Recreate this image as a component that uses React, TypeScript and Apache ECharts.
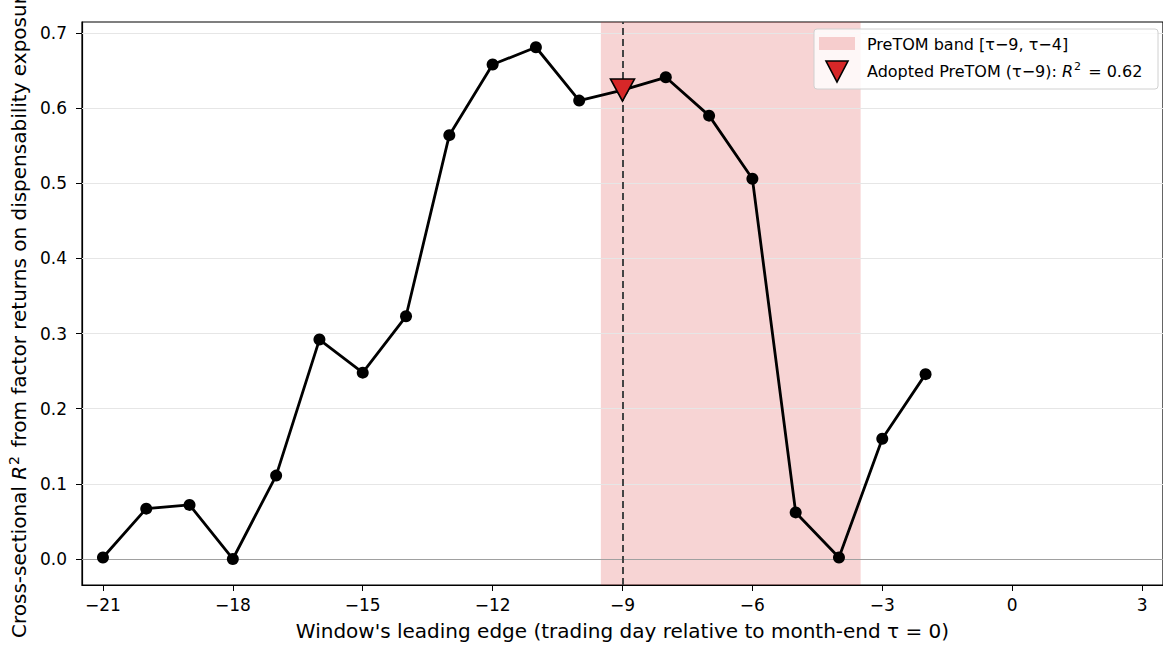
import React, { useEffect, useRef } from "react";
import * as echarts from "echarts";

const xValues = [-21, -20, -19, -18, -17, -16, -15, -14, -13, -12, -11, -10, -9, -8, -7, -6, -5, -4, -3, -2];
const r2Values = [0.002, 0.067, 0.072, 0.0, 0.111, 0.292, 0.248, 0.323, 0.564, 0.658, 0.681, 0.61, 0.624, 0.641, 0.59, 0.506, 0.062, 0.002, 0.16, 0.246];
const xTicks = [-21, -18, -15, -12, -9, -6, -3, 0, 3];
const yTicks = [0, 0.1, 0.2, 0.3, 0.4, 0.5, 0.6, 0.7];
const band = [-9.5, -3.5];
const adoptedX = -9;
const adoptedR2 = 0.624;

const FONT = "DejaVu Sans";
const fmtMinus = (v: number) => String(v).replace("-", "\u2212");

export default function App() {
  const ref = useRef<HTMLDivElement>(null);
  useEffect(() => {
    if (!ref.current) return;
    const chart = echarts.init(ref.current, null, { renderer: "svg" });
    const lx = 814, ly = 29;
    chart.setOption({
      animation: false,
      backgroundColor: "#fff",
      textStyle: { fontFamily: FONT },
      grid: { left: 82, top: 22, right: -2, bottom: 64, show: true, borderColor: "#000", borderWidth: 1.2, backgroundColor: "transparent" },
      xAxis: {
        type: "value",
        min: -21.484,
        max: 3.484,
        name: "Window's leading edge (trading day relative to month-end \u03c4 = 0)",
        nameLocation: "middle",
        nameGap: 36,
        nameTextStyle: { fontSize: 20, color: "#000", fontFamily: FONT },
        axisLine: { show: true, onZero: false, lineStyle: { color: "#000", width: 1.2 } },
        axisTick: { show: true, customValues: xTicks, length: 6, lineStyle: { color: "#000", width: 1 } },
        axisLabel: { customValues: xTicks, formatter: (v: number) => fmtMinus(v), fontSize: 17, color: "#000", margin: 11, fontFamily: FONT },
        splitLine: { show: false },
      },
      yAxis: {
        type: "value",
        min: -0.0346,
        max: 0.7146,
        axisLine: { show: true, onZero: false, lineStyle: { color: "#000", width: 1.2 } },
        axisTick: { show: true, customValues: yTicks, length: 6, lineStyle: { color: "#000", width: 1 } },
        axisLabel: { customValues: yTicks, formatter: (v: number) => v.toFixed(1), fontSize: 17, color: "#000", margin: 15, fontFamily: FONT },
        splitLine: { show: false },
      },
      series: [
        {
          type: "line",
          data: [],
          silent: true,
          markArea: {
            silent: true,
            itemStyle: { color: "rgba(214,39,40,0.2)" },
            data: [[{ xAxis: band[0] }, { xAxis: band[1] }]],
          },
          markLine: {
            silent: true,
            symbol: "none",
            label: { show: false },
            data: [
              ...yTicks.filter((t) => t !== 0).map((t) => ({ yAxis: t, lineStyle: { color: "#e6e6e6", width: 1, type: "solid" } })),
              { yAxis: 0, lineStyle: { color: "#a0a0a0", width: 1.2, type: "solid" } },
              { xAxis: adoptedX, lineStyle: { color: "#444", width: 2, type: [7, 4] } },
            ],
          },
        },
        {
          type: "line",
          data: xValues.map((x, i) => [x, r2Values[i]]),
          symbol: "circle",
          symbolSize: 12,
          showSymbol: true,
          itemStyle: { color: "#000" },
          lineStyle: { color: "#000", width: 2.8 },
          z: 5,
        },
        {
          type: "scatter",
          data: [[adoptedX, adoptedR2]],
          symbol: "triangle",
          symbolRotate: 180,
          symbolSize: [24, 22],
          itemStyle: { color: "#d62728", borderColor: "#000", borderWidth: 1.6, opacity: 1 },
          z: 10,
        },
      ],
      graphic: [
        {
          type: "text", x: 19, y: 638, rotation: Math.PI / 2,
          style: {
            text: "Cross-sectional {i|R}{s|2} from factor returns on dispensability exposure",
            font: `20px ${FONT}`, fill: "#000", align: "left", verticalAlign: "middle",
            rich: {
              i: { fontStyle: "italic", fontSize: 20, fontFamily: FONT },
              s: { fontSize: 14, fontFamily: FONT, verticalAlign: "top", padding: [0, 2, 10, 1] },
            },
          },
          z: 50,
        },
        { type: "rect", shape: { x: lx, y: ly, width: 344, height: 60, r: 3 }, style: { fill: "rgba(255,255,255,0.8)", stroke: "#d0d0d0", lineWidth: 1 }, z: 100 },
        { type: "rect", shape: { x: lx + 5, y: ly + 8, width: 36, height: 13 }, style: { fill: "rgba(214,39,40,0.2)" }, z: 101 },
        { type: "text", x: lx + 53, y: ly + 15, style: { text: "PreTOM band [\u03c4\u22129, \u03c4\u22124]", font: `16px ${FONT}`, fill: "#000", verticalAlign: "middle" }, z: 101 },
        { type: "polygon", shape: { points: [[lx + 12, ly + 32], [lx + 34, ly + 32], [lx + 23, ly + 53]] }, style: { fill: "#d62728", stroke: "#000", lineWidth: 1.6 }, z: 101 },
        {
          type: "text", x: lx + 53, y: ly + 42,
          style: {
            text: "Adopted PreTOM (\u03c4\u22129): {i|R}{s|2} = 0.62",
            font: `16px ${FONT}`, fill: "#000", verticalAlign: "middle",
            rich: {
              i: { fontStyle: "italic", fontSize: 16, fontFamily: FONT },
              s: { fontSize: 11, fontFamily: FONT, verticalAlign: "top", padding: [0, 2, 9, 1] },
            },
          },
          z: 101,
        },
      ],
    });
    return () => chart.dispose();
  }, []);
  return <div ref={ref} style={{ position: "fixed", left: 0, top: 0, width: 1163, height: 649 }} />;
}
